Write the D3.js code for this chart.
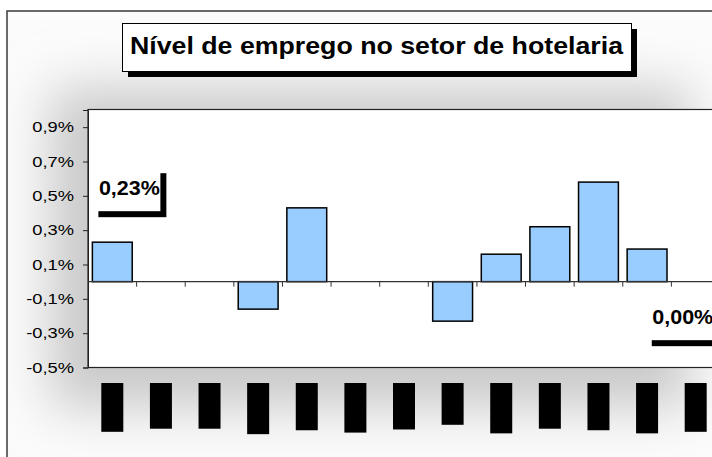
<!DOCTYPE html>
<html>
<head>
<meta charset="utf-8">
<script src="https://cdn.jsdelivr.net/npm/d3@7"></script>
<style>
  body { margin: 0; background: #fff; }
  text { font-family: Arial, "Liberation Sans", sans-serif; }
</style>
</head>
<body>
<svg id="svg" width="712" height="457"></svg>
<script>
// data
var months = ["dez/08","jan/09","fev/09","mar/09","abr/09","mai/09","jun/09","jul/09","ago/09","set/09","out/09","nov/09","dez/09"];
var values = [0.23, 0, 0, -0.16, 0.43, 0, 0, -0.23, 0.16, 0.32, 0.58, 0.19, 0.00];
var yTicks = [-0.5, -0.3, -0.1, 0.1, 0.3, 0.5, 0.7, 0.9];
var labelled = [0, 12];
var title = "Nível de emprego no setor de hotelaria";

var svg = d3.select("#svg");
var defs = svg.append("defs");

// stretch text a bit wider, like the original picture
function stretch(sel, k) {
    sel.each(function() {
        var n = this.getComputedTextLength();
        d3.select(this).attr("textLength", n * k).attr("lengthAdjust", "spacingAndGlyphs");
    });
}
function pct(d, dec) {
    return (d < 0 ? "-" : "") + Math.abs(d).toFixed(dec).replace(".", ",") + "%";
}

// chart background: frame with soft grey glow
defs.append("clipPath").attr("id", "frameClip")
    .append("rect").attr("x", 7).attr("y", 11).attr("width", 720).attr("height", 460);
defs.append("filter").attr("id", "glow").attr("x", "-50%").attr("y", "-50%").attr("width", "200%").attr("height", "200%")
    .append("feGaussianBlur").attr("stdDeviation", 26);

var bg = svg.append("g").attr("clip-path", "url(#frameClip)");
bg.append("rect").attr("x", 7).attr("y", 11).attr("width", 720).attr("height", 460).attr("fill", "#fbfbfb");
bg.append("rect").attr("x", 50).attr("y", 88).attr("width", 640).attr("height", 320)
    .attr("fill", "#c9c9c9").attr("filter", "url(#glow)");
svg.append("rect").attr("x", 7).attr("y", 11).attr("width", 720).attr("height", 460)
    .attr("fill", "none").attr("stroke", "#3a3a3a").attr("stroke-width", 1.5);

// title box
svg.append("rect").attr("x", 128).attr("y", 29).attr("width", 509).attr("height", 48).attr("fill", "#000");
svg.append("rect").attr("x", 122.5).attr("y", 23.5).attr("width", 509).attr("height", 48)
    .attr("fill", "#fff").attr("stroke", "#000").attr("stroke-width", 1);
svg.append("text").attr("x", 130).attr("y", 53.5)
    .attr("font-size", 23).attr("font-weight", "bold").attr("fill", "#000")
    .attr("textLength", 493).attr("lengthAdjust", "spacingAndGlyphs")
    .text(title);

// scales
var x = d3.scaleBand().domain(months).range([88, 720]).paddingInner(0.18).paddingOuter(0.09);
var y = d3.scaleLinear().domain([-0.5, 1.0]).range([367.5, 110]);

// plot area
svg.append("rect").attr("x", 88).attr("y", 109.5).attr("width", 632).attr("height", 258)
    .attr("fill", "#fff").attr("stroke", "#222").attr("stroke-width", 1.2);

// y axis
var yAxis = svg.append("g").attr("transform", "translate(88,0)")
    .call(d3.axisLeft(y).tickValues(yTicks).tickSize(5).tickPadding(9).tickFormat(function(d) { return pct(d, 1); }));
yAxis.select(".domain").attr("stroke", "#222");
yAxis.selectAll(".tick line").attr("stroke", "#222");
yAxis.selectAll("text").attr("font-size", 15).attr("fill", "#000")
    .attr("font-family", "Arial, 'Liberation Sans', sans-serif");
stretch(yAxis.selectAll("text"), 1.22);

// bars
svg.selectAll("rect.bar").data(values).enter().append("rect")
    .attr("class", "bar")
    .attr("x", function(d, i) { return x(months[i]); })
    .attr("y", function(d) { return y(Math.max(0, d)); })
    .attr("width", x.bandwidth())
    .attr("height", function(d) { return Math.abs(y(d) - y(0)); })
    .attr("fill", "#99ccff").attr("stroke", "#000").attr("stroke-width", 1.5);

// zero line and category ticks
svg.append("line").attr("x1", 88).attr("x2", 720).attr("y1", y(0)).attr("y2", y(0))
    .attr("stroke", "#333").attr("stroke-width", 1.2);
var gap = x.step() * x.paddingInner() / 2;
svg.selectAll("line.xtick").data(months.slice(1)).enter().append("line")
    .attr("class", "xtick")
    .attr("x1", function(d) { return x(d) - gap; })
    .attr("x2", function(d) { return x(d) - gap; })
    .attr("y1", y(0)).attr("y2", y(0) + 5)
    .attr("stroke", "#333").attr("stroke-width", 1);

// data labels with shadow (first and last month)
var lbOffset = { 0: [0, -75], 12: [-30, 14.5] };
var lb = svg.selectAll("g.lbl").data(labelled).enter().append("g")
    .attr("class", "lbl")
    .attr("transform", function(i) {
        var o = lbOffset[i];
        return "translate(" + (x(months[i]) + o[0]) + "," + (y(values[i]) + o[1]) + ")";
    });
lb.append("rect").attr("x", 6).attr("y", 6).attr("width", 68).attr("height", 44).attr("fill", "#000");
lb.append("rect").attr("width", 68).attr("height", 44).attr("fill", "#fff");
lb.append("text").attr("x", 6.5).attr("y", 28)
    .attr("font-size", 20).attr("font-weight", "bold").attr("fill", "#000")
    .attr("textLength", 61).attr("lengthAdjust", "spacingAndGlyphs")
    .text(function(i) { return pct(values[i], 2); });

// month labels (vertical, drawn over black)
var ml = svg.selectAll("g.month").data(months).enter().append("g")
    .attr("class", "month")
    .attr("transform", function(d) { return "translate(" + (x(d) + x.bandwidth() / 2) + ",383)"; });
var mt = ml.append("text")
    .attr("transform", "rotate(-90)")
    .attr("x", -4).attr("y", 5)
    .attr("text-anchor", "end")
    .attr("font-size", 14).attr("font-weight", "bold").attr("fill", "#000")
    .text(function(d) { return d; });
ml.insert("rect", "text")
    .attr("x", -11).attr("y", 0).attr("width", 22)
    .attr("height", function() { return this.parentNode.querySelector("text").getComputedTextLength() + 6; })
    .attr("fill", "#000");
</script>
</body>
</html>
